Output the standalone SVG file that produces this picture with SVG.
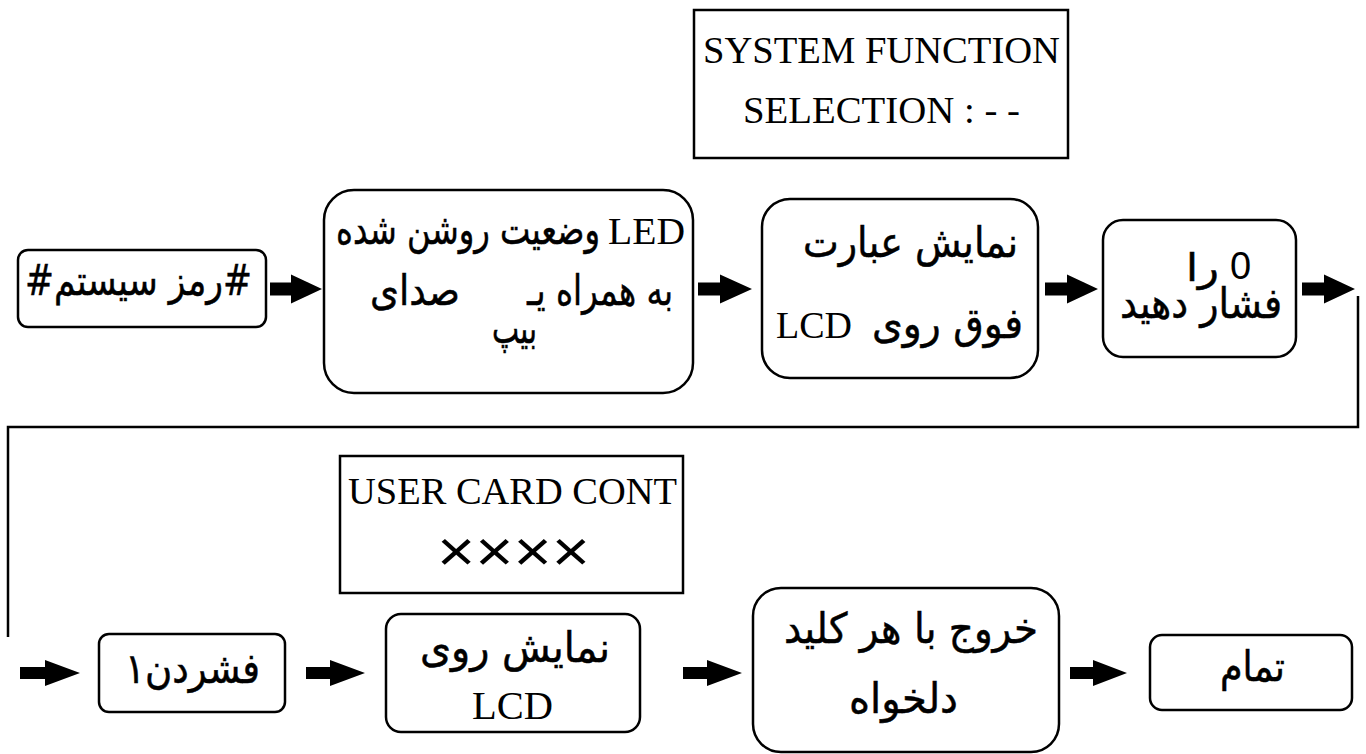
<svg xmlns="http://www.w3.org/2000/svg" width="1366" height="754" viewBox="0 0 1366 754">
<style>
.box{fill:#fff;stroke:#000;stroke-width:2.5}
.lcd{fill:#fff;stroke:#000;stroke-width:2.5}
.ar{font-family:"DejaVu Sans",sans-serif;font-size:42px;fill:#000;stroke:#000;stroke-width:0.5}
.sans{font-family:"Liberation Sans",sans-serif;font-size:38px;fill:#000;stroke:none}
.lat{font-family:"Liberation Serif",serif;font-size:37px;fill:#000;stroke:none}
.arrow{fill:#000;stroke:none}
.conn{fill:none;stroke:#000;stroke-width:2.5}
</style>
<rect width="1366" height="754" fill="#fff"/>

<g id="lcd-system">
<rect class="lcd" x="694" y="10" width="374" height="148"/>
<text class="lat" x="703" y="63" textLength="357" lengthAdjust="spacingAndGlyphs">SYSTEM FUNCTION</text>
<text class="lat" x="743" y="123" textLength="277" lengthAdjust="spacingAndGlyphs">SELECTION : - -</text>
</g>

<g id="lcd-user">
<rect class="lcd" x="340" y="456" width="343" height="137"/>
<text class="lat" x="348" y="504" textLength="329" lengthAdjust="spacingAndGlyphs">USER CARD CONT</text>
<text class="sans" x="437" y="571" style="font-size:58px" textLength="153" lengthAdjust="spacingAndGlyphs">××××</text>
</g>

<g id="n1">
<rect class="box" x="18" y="250" width="248" height="77" rx="10"/>
<text class="ar" x="25" y="295" textLength="227" lengthAdjust="spacingAndGlyphs">#رمز سیستم#</text>
</g>

<g id="n2">
<rect class="box" x="324" y="190" width="369" height="203" rx="30"/>
<text class="ar" x="336" y="244" textLength="264" lengthAdjust="spacingAndGlyphs">وضعیت روشن شده</text>
<text class="lat" x="608" y="244" textLength="77" lengthAdjust="spacingAndGlyphs">LED</text>
<text class="ar" x="527" y="305" textLength="146" lengthAdjust="spacingAndGlyphs">به همراه یـ</text>
<text class="ar" x="370" y="305" textLength="90" lengthAdjust="spacingAndGlyphs">صدای</text>
<text class="ar" x="492" y="343" textLength="45" lengthAdjust="spacingAndGlyphs">بیپ</text>
</g>

<g id="n3">
<rect class="box" x="762" y="199" width="276" height="179" rx="28"/>
<text class="ar" x="803" y="257" textLength="215" lengthAdjust="spacingAndGlyphs">نمایش عبارت</text>
<text class="lat" x="776" y="338" textLength="76" lengthAdjust="spacingAndGlyphs">LCD</text>
<text class="ar" x="872" y="338" textLength="151" lengthAdjust="spacingAndGlyphs">فوق روی</text>
</g>

<g id="n4">
<rect class="box" x="1103" y="220" width="193" height="137" rx="20"/>
<text class="sans" x="1230" y="279">0</text>
<text class="ar" x="1186" y="281" style="font-size:38px" textLength="33" lengthAdjust="spacingAndGlyphs">را</text>
<text class="ar" x="1120" y="318" textLength="162" lengthAdjust="spacingAndGlyphs">فشار دهید</text>
</g>

<g id="n5">
<rect class="box" x="99" y="634" width="186" height="78" rx="10"/>
<text class="ar" x="125" y="683" textLength="135" lengthAdjust="spacingAndGlyphs">فشردن۱</text>
</g>

<g id="n6">
<rect class="box" x="386" y="614" width="254" height="118" rx="15"/>
<text class="ar" x="420" y="662" textLength="190" lengthAdjust="spacingAndGlyphs">نمایش روی</text>
<text class="lat" x="472" y="719" style="font-size:40px" textLength="81" lengthAdjust="spacingAndGlyphs">LCD</text>
</g>

<g id="n7">
<rect class="box" x="753" y="588" width="306" height="164" rx="28"/>
<text class="ar" x="784" y="643" textLength="254" lengthAdjust="spacingAndGlyphs">خروج با هر کلید</text>
<text class="ar" x="849" y="713" textLength="109" lengthAdjust="spacingAndGlyphs">دلخواه</text>
</g>

<g id="n8">
<rect class="box" x="1150" y="635" width="202" height="75" rx="12"/>
<text class="ar" x="1220" y="681" textLength="65" lengthAdjust="spacingAndGlyphs">تمام</text>
</g>

<g id="connectors">
<path class="arrow" d="M270 282.5H291V274.5L322 289L291 303.5V295.5H270Z"/>
<path class="arrow" d="M698 282.5H720V274.5L752 289L720 303.5V295.5H698Z"/>
<path class="arrow" d="M1045 282.5H1067V274.5L1098 289L1067 303.5V295.5H1045Z"/>
<path class="arrow" d="M1302 282.5H1324V274.5L1355 289L1324 303.5V295.5H1302Z"/>
<polyline class="conn" points="1358,296 1358,427 8,427 8,637"/>
<path class="arrow" d="M20 667H45V660L80 673L45 686V679H20Z"/>
<path class="arrow" d="M306 667H330V660L365 673L330 686V679H306Z"/>
<path class="arrow" d="M683 667H707V660L742 673L707 686V679H683Z"/>
<path class="arrow" d="M1070 667H1093V660L1127 673L1093 686V679H1070Z"/>
</g>
</svg>
